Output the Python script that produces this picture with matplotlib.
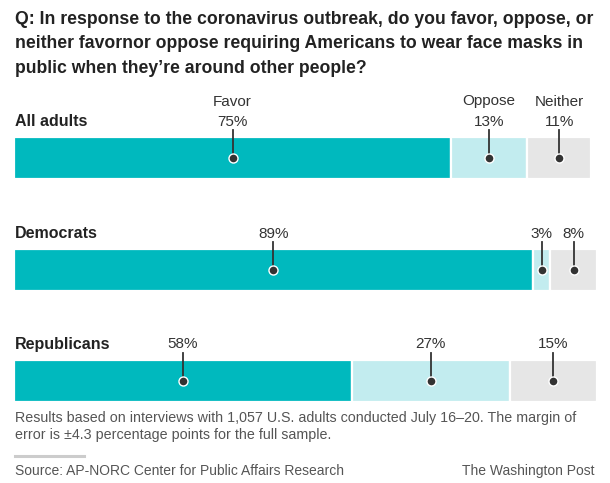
import matplotlib
matplotlib.use("Agg")
import matplotlib.pyplot as plt
import numpy as np

# ---- data ----
groups = ["All adults", "Democrats", "Republicans"]
responses = ["Favor", "Oppose", "Neither"]
favor = [75, 89, 58]
oppose = [13, 3, 27]
neither = [11, 8, 15]
colors = ["#00B9BE", "#C2ECEF", "#E6E6E6"]

title = ("Q: In response to the coronavirus outbreak, do you favor, oppose, or\n"
         "neither favornor oppose requiring Americans to wear face masks in\n"
         "public when they\u2019re around other people?")
note = ("Results based on interviews with 1,057 U.S. adults conducted July 16\u201320. The margin of\n"
        "error is \u00b14.3 percentage points for the full sample.")
source = "Source: AP-NORC Center for Public Affairs Research"
credit = "The Washington Post"

W, H = 610, 483
fig = plt.figure(figsize=(W / 100, H / 100), dpi=100)
ax = fig.add_axes([0, 0, 1, 1])
x0_px, x1_px = 14, 597
scale = (x1_px - x0_px) / 100.0
ax.set_xlim(-x0_px / scale, (W - x0_px) / scale)
ax.set_ylim(H, 0)
ax.axis("off")

bar_centers = [157.5, 269.5, 380.5]
bar_h = 42
dark = "#333333"
lab_font = "Liberation Sans"

values = np.array([favor, oppose, neither]).T  # rows: groups
for gi, g in enumerate(groups):
    yc = bar_centers[gi]
    top = yc - bar_h / 2
    left = 0
    for ri, r in enumerate(responses):
        v = values[gi, ri]
        ax.barh(yc, v, left=left, height=bar_h, color=colors[ri],
                edgecolor="white", linewidth=1.6)
        cx = left + v / 2
        # leader line + dot
        ax.plot([cx, cx], [top - 6.5, yc], color=dark, lw=1.3, zorder=3)
        ax.plot([cx], [yc], marker="o", ms=6.5, mfc=dark, mec="white",
                mew=1.0, zorder=4)
        ax.text(cx, top - 15, f"{v}%", ha="center", va="center",
                fontsize=11, color="#333333", family=lab_font)
        if gi == 0:
            ax.text(cx, top - 35, r, ha="center", va="center",
                    fontsize=11, color="#333333", family=lab_font)
        left += v
    ax.text(0.15, top - 15.5, g, ha="left", va="center", fontsize=11.5,
            fontweight="bold", color="#222222", family=lab_font)

fig.text(15 / W, 1 - 10.5 / H, title, ha="left", va="top", fontsize=12.7,
         fontweight="bold", color="#222222", family=lab_font,
         linespacing=1.6)
fig.text(15 / W, 1 - 411 / H, note, ha="left", va="top", fontsize=10.25,
         color="#555555", family=lab_font, linespacing=1.3)
fig.add_artist(plt.Line2D([15 / W, 84 / W], [1 - 456 / H, 1 - 456 / H],
                          color="#CCCCCC", lw=2.2))
fig.text(15 / W, 1 - 471 / H, source, ha="left", va="center", fontsize=10,
         color="#555555", family=lab_font)
fig.text(594 / W, 1 - 471 / H, credit, ha="right", va="center", fontsize=10,
         color="#555555", family=lab_font)

fig.savefig("out.png", dpi=100)
